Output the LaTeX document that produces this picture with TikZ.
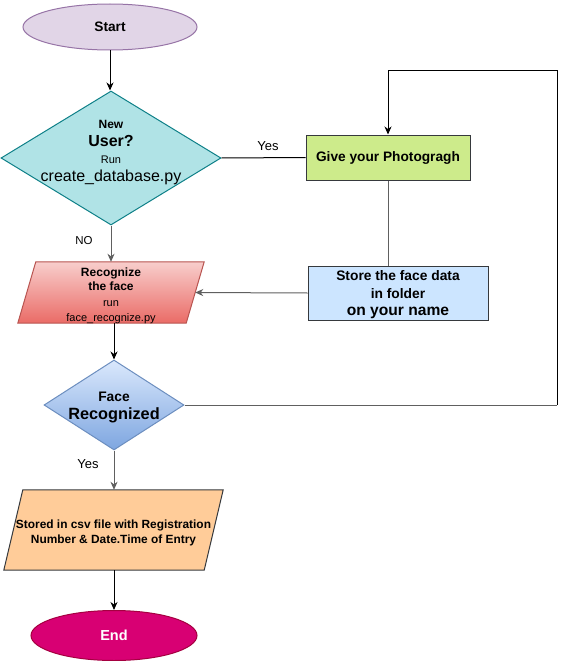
\documentclass[tikz,border=0pt]{standalone}
\usepackage{fontspec}
\setmainfont{Liberation Sans}
\usetikzlibrary{shapes.geometric,arrows.meta}
\pgfdeclarelayer{background}
\pgfsetlayers{background,main}
\definecolor{startfill}{HTML}{E1D5E7}
\definecolor{startdraw}{HTML}{9673A6}
\definecolor{dfill}{HTML}{B0E3E6}
\definecolor{ddraw}{HTML}{0E8088}
\definecolor{greenfill}{HTML}{CDEB8B}
\definecolor{boxdraw}{HTML}{36393D}
\definecolor{bluefill}{HTML}{CCE5FF}
\definecolor{redtop}{HTML}{F8CECC}
\definecolor{redbot}{HTML}{EA6B66}
\definecolor{reddraw}{HTML}{B85450}
\definecolor{btop}{HTML}{DAE8FC}
\definecolor{bbot}{HTML}{7EA6E0}
\definecolor{bdraw}{HTML}{6C8EBF}
\definecolor{orangefill}{HTML}{FFCC99}
\definecolor{endfill}{HTML}{D80073}
\definecolor{enddraw}{HTML}{A50040}
\definecolor{linegray}{HTML}{606060}
\tikzset{
  conn/.style={line width=1pt, draw=black},
  gconn/.style={line width=1pt, draw=linegray},
  arr/.style={-{Stealth[length=8pt,width=7pt,inset=2.5pt]}},
  boxstyle/.style={rectangle, draw=boxdraw, line width=1pt, inner sep=0pt, align=center},
  invis/.style={rectangle, inner sep=0pt, align=center},
  fb/.style={font=\bfseries\fontsize{13.7}{16}\selectfont},
  lbl/.style={font=\fontsize{13}{15}\selectfont, inner sep=0pt}
}
\begin{document}
\begin{tikzpicture}[x=1pt,y=-1pt]
\useasboundingbox (0,0) rectangle (560,661);

% Start
\node[ellipse, draw=startdraw, fill=startfill, line width=1pt, minimum width=174, minimum height=46, inner sep=0pt, fb] (start) at (110,27) {Start};

% Decision 1
\node[diamond, draw=ddraw, fill=dfill, line width=1pt, minimum width=220, minimum height=134, aspect=1.64, inner sep=0pt] (d1) at (111,158) {};
\node[invis, font=\fontsize{12}{17.7}\selectfont] (d1t) at (111,152.5) {\bfseries\fontsize{12}{14}\selectfont New\\
 \bfseries\fontsize{16}{17}\selectfont User?\\
 \fontsize{11}{13}\selectfont Run\\
 \fontsize{16}{17}\selectfont create\_database.py};

% Give photograph
\node[boxstyle, fill=greenfill, minimum width=164, minimum height=45, fb] (photo) at (388,157.5) {Give your Photogragh};

% Store
\node[boxstyle, fill=bluefill, minimum width=180, minimum height=54, font=\fontsize{12}{17.5}\selectfont] (store) at (398,293) {};
\node[invis, font=\fontsize{12}{17.5}\selectfont] (storet) at (398,295) {\bfseries\fontsize{13.8}{15}\selectfont Store the face data\\
 \bfseries\fontsize{13.8}{15}\selectfont in folder\\
 \bfseries\fontsize{15.6}{17}\selectfont on your name};

% Recognize parallelogram
\node[invis, minimum width=168, minimum height=61] (rec) at (111,292.5) {};
\node[invis, font=\fontsize{12}{14.5}\selectfont] (rect) at (111,295.5) {\bfseries\fontsize{12}{14}\selectfont Recognize\\
 \bfseries\fontsize{12}{14}\selectfont the face\\[1.5pt]
 \fontsize{11}{14}\selectfont run\\
 \fontsize{11}{14}\selectfont face\_recognize.py};
\begin{pgfonlayer}{background}
\shade[top color=redtop, bottom color=redbot, draw=reddraw, line width=1pt]
  ([xshift=9]rec.north west) -- ([xshift=9]rec.north east) -- ([xshift=-9]rec.south east) -- ([xshift=-9]rec.south west) -- cycle;
\end{pgfonlayer}

% Decision 2
\node[diamond, shade, top color=btop, bottom color=bbot, draw=bdraw, line width=1pt, minimum width=140, minimum height=90, aspect=1.55, inner sep=0pt] (d2) at (114,405) {};
\node[invis, font=\fontsize{12}{17.5}\selectfont] (d2t) at (114,407.5) {\bfseries\fontsize{13.8}{15}\selectfont Face\\
 \bfseries\fontsize{16.3}{17}\selectfont Recognized};

% CSV parallelogram
\node[invis, minimum width=200, minimum height=80] (csv) at (113.5,530) {};
\node[invis, font=\fontsize{11.9}{15}\selectfont] (csvt) at (113.5,532.5) {\bfseries\fontsize{11.9}{15}\selectfont Stored in csv file with Registration\\
 \bfseries\fontsize{11.9}{15}\selectfont Number \& Date.Time of Entry};
\begin{pgfonlayer}{background}
\draw[fill=orangefill, draw=boxdraw, line width=1pt]
  ([xshift=9.5]csv.north west) -- ([xshift=9.5]csv.north east) -- ([xshift=-9.5]csv.south east) -- ([xshift=-9.5]csv.south west) -- cycle;
\end{pgfonlayer}

% End
\node[ellipse, draw=enddraw, fill=endfill, line width=1pt, minimum width=166, minimum height=50, inner sep=0pt, font=\bfseries\fontsize{14.5}{16}\selectfont, text=white] (end) at (114,635.5) {End};

% loop corner
\coordinate (loopA) at (557,71);

% Connectors
\draw[conn, arr] (start.south) -- (start.south |- d1.north);
\draw[conn] (d1.east) -- (photo.west);
\node[lbl] (yes1) at (268,146) {Yes};
\draw[gconn] (photo.south) -- (photo.south |- store.north);
\draw[gconn, arr] (store.west) -- (rec.east);
\draw[gconn, arr] (d1.south) -- (rec.north);
\node[lbl, font=\fontsize{11.5}{13}\selectfont] (no1) at (84,241) {NO};
\draw[conn, arr] (rec.south -| d2.north) -- (d2.north);
\draw[gconn] (d2.east) -- (d2.east -| loopA);
\draw[conn, arr] (d2.east -| loopA) -- (loopA) -| (photo.north);
\draw[gconn, arr] (d2.south) -- (d2.south |- csv.north);
\node[lbl] (yes2) at (88,464) {Yes};
\draw[conn, arr] (csv.south -| end.north) -- (end.north);
\end{tikzpicture}
\end{document}
